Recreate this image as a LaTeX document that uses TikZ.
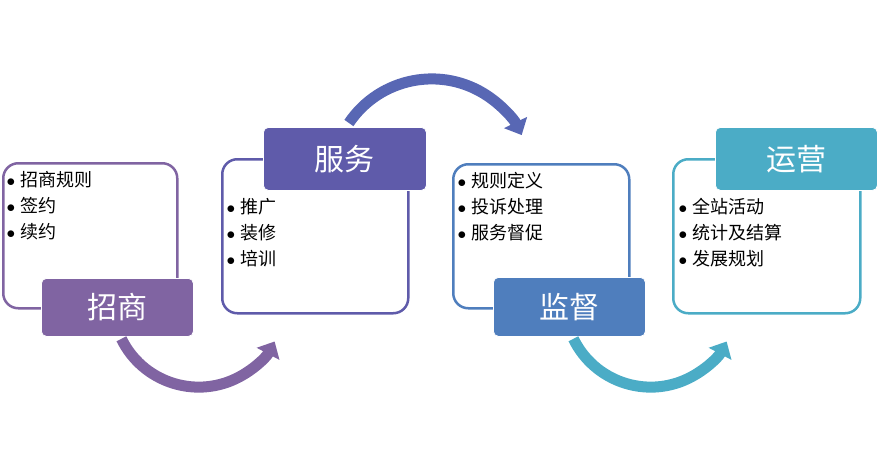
\documentclass[tikz,border=0pt]{standalone}
\usepackage{fontspec}
\setmainfont{Noto Sans CJK SC}
\usetikzlibrary{positioning, arrows.meta, calc}

\definecolor{zsColor}{HTML}{8064A2}
\definecolor{fwColor}{HTML}{5F5BAA}
\definecolor{fwArrow}{HTML}{5867B4}
\definecolor{jdColor}{HTML}{4F7EBD}
\definecolor{yyColor}{HTML}{4BACC6}
\newcommand\bul{\makebox[14pt][l]{\hspace{0.5pt}$\bullet$}}

\begin{document}
\begin{tikzpicture}[x=1pt, y=1pt,
    panel/.style={rectangle, rounded corners=15pt, line width=2.5pt, fill=white, anchor=north west, inner sep=0pt},
    tag/.style={rectangle, rounded corners=5pt, draw=white, line width=0.8pt, anchor=north west, inner sep=0pt, text=white, font=\fontsize{30}{36}\selectfont},
    items/.style={align=left, anchor=north west, inner sep=0pt, font=\fontsize{18}{26}\selectfont},
    flow/.style={line width=11pt, -{Triangle[width=25pt,length=14pt]}},
]
\useasboundingbox (0,0) rectangle (880,-471);

% Content panels
\node (zsBox) [panel, draw=zsColor, minimum width=174pt, minimum height=145pt] at (2,-162) {};
\node (fwBox) [panel, draw=fwColor, minimum width=186pt, minimum height=154pt] at (221,-158) {};
\node (jdBox) [panel, draw=jdColor, minimum width=176pt, minimum height=144pt] at (452,-163) {};
\node (yyBox) [panel, draw=yyColor, minimum width=187pt, minimum height=154pt] at (672,-158) {};

% Title tags
\node (zsTag) [tag, fill=zsColor, minimum width=152pt, minimum height=58pt] at (41,-278) {招商};
\node (fwTag) [tag, fill=fwColor, minimum width=163pt, minimum height=63pt] at (263,-127) {服务};
\node (jdTag) [tag, fill=jdColor, minimum width=152pt, minimum height=59pt] at (493,-277) {监督};
\node (yyTag) [tag, fill=yyColor, minimum width=162pt, minimum height=63pt] at (715,-127) {运营};

% Item lists
\node (zsList) [items, below right=9pt and 4pt of zsBox.north west] {\bul 招商规则\\\bul 签约\\\bul 续约};
\node (fwList) [items, below right=40pt and 5pt of fwBox.north west] {\bul 推广\\\bul 装修\\\bul 培训};
\node (jdList) [items, below right=9pt and 5pt of jdBox.north west] {\bul 规则定义\\\bul 投诉处理\\\bul 服务督促};
\node (yyList) [items, below right=40pt and 6pt of yyBox.north west] {\bul 全站活动\\\bul 统计及结算\\\bul 发展规划};

% Curved arrows
\draw [flow, zsColor] ($(zsTag.south)+(4,-2)$) arc[start angle=206, end angle=332, radius=86pt];
\draw [flow, fwArrow] ($(fwTag.north)+(4,4)$) arc[start angle=146, end angle=26, radius=100pt];
\draw [flow, yyColor] ($(jdTag.south)+(4,-2)$) arc[start angle=206, end angle=332, radius=86pt];

\end{tikzpicture}
\end{document}
